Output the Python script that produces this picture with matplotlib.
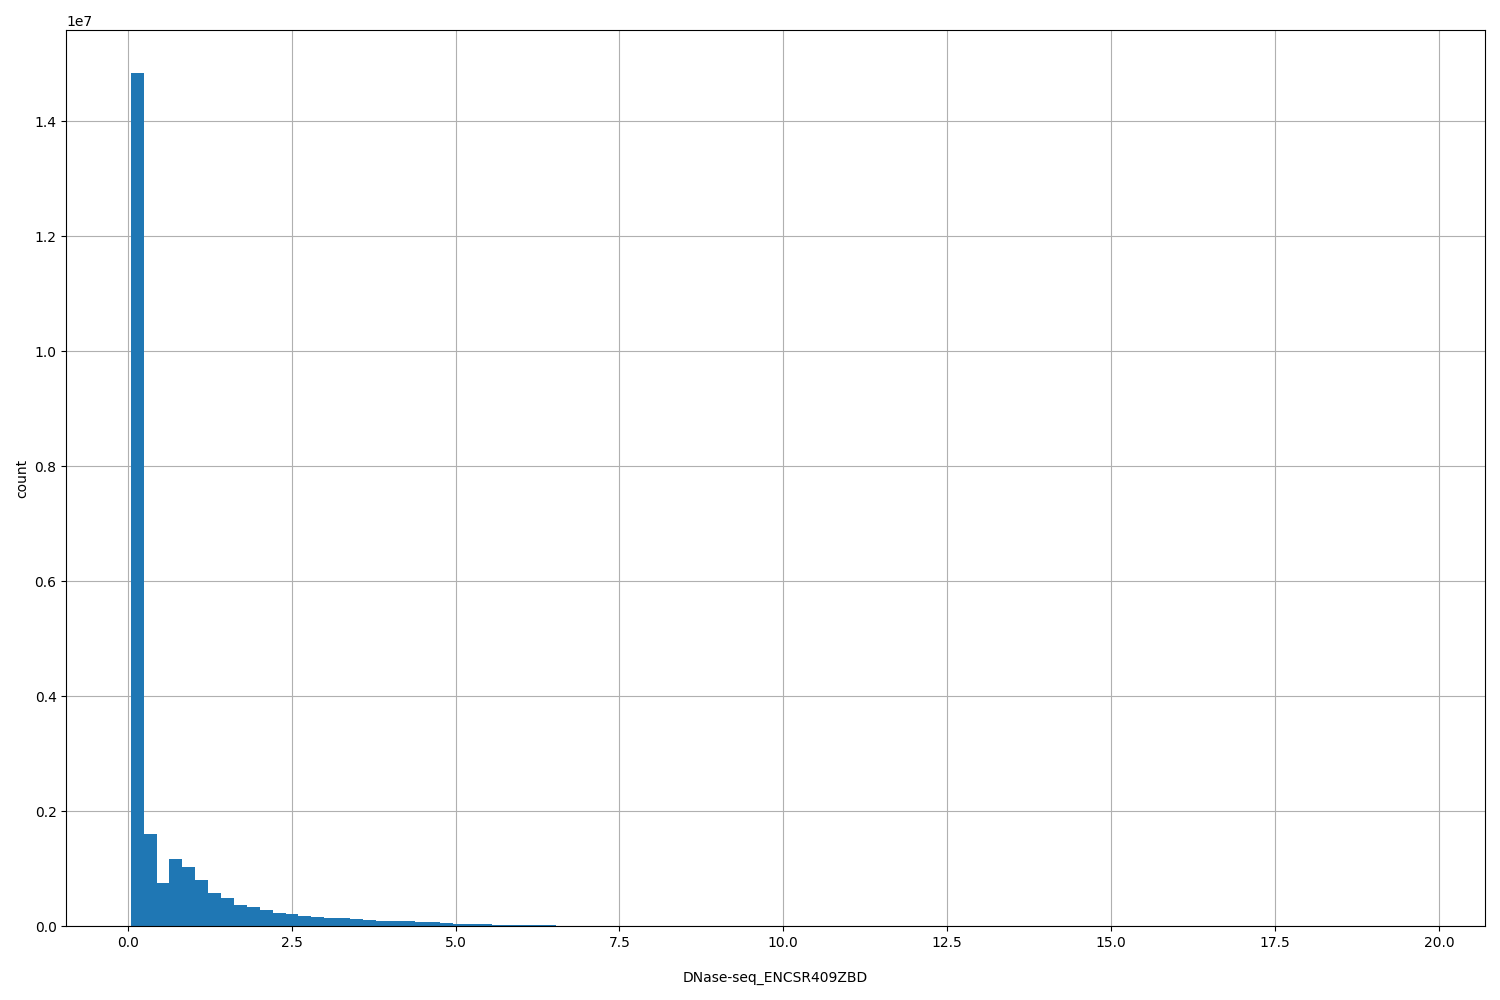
import numpy as np
import matplotlib.pyplot as plt

# histogram of signal values, 100 equal bins
bin_lo = 0.046
bin_hi = 19.72
n_bins = 100

# counts per bin (in millions)
counts_m = [
    14.84, 1.60, 0.75, 1.18, 1.03, 0.80, 0.59, 0.49, 0.38, 0.33,
    0.28, 0.23, 0.21, 0.175, 0.17, 0.155, 0.14, 0.122, 0.105, 0.088,
    0.087, 0.086, 0.07, 0.069, 0.052, 0.036, 0.035, 0.034, 0.019, 0.018,
    0.018, 0.017, 0.017, 0.008, 0.007, 0.006, 0.005, 0.0045, 0.004, 0.0035,
    0.003, 0.0027, 0.0024, 0.0021, 0.0019, 0.0017, 0.0015, 0.0013, 0.0012, 0.0011,
    0.001, 0.0009, 0.0008, 0.0007, 0.0006, 0.0005, 0.0005, 0.0004, 0.0004, 0.0003,
    0.0003, 0.0003, 0.0002, 0.0002, 0.0002, 0.0002, 0.0001, 0.0001, 0.0001, 0.0001,
    0.0001, 0.0001, 0.00008, 0.00007, 0.00006, 0.00005, 0.00005, 0.00004, 0.00004, 0.00003,
    0.00003, 0.00003, 0.00002, 0.00002, 0.00002, 0.00002, 0.00001, 0.00001, 0.00001, 0.00001,
    0.00001, 0.00001, 0.00001, 0.00001, 0.00001, 0.00001, 0.00001, 0.00001, 0.00001, 0.00001,
]
xlabel = 'DNase-seq_ENCSR409ZBD'

edges = np.linspace(bin_lo, bin_hi, n_bins + 1)
counts = np.array(counts_m) * 1e6

fig, ax = plt.subplots(figsize=(15, 10))
ax.hist(edges[:-1], bins=edges, weights=counts, color='#1f77b4')
ax.grid(True)
ax.set_axisbelow(True)
ax.set_xlabel(xlabel, labelpad=15)
ax.set_ylabel('count')
plt.tight_layout()
plt.savefig('out.png', dpi=100)
